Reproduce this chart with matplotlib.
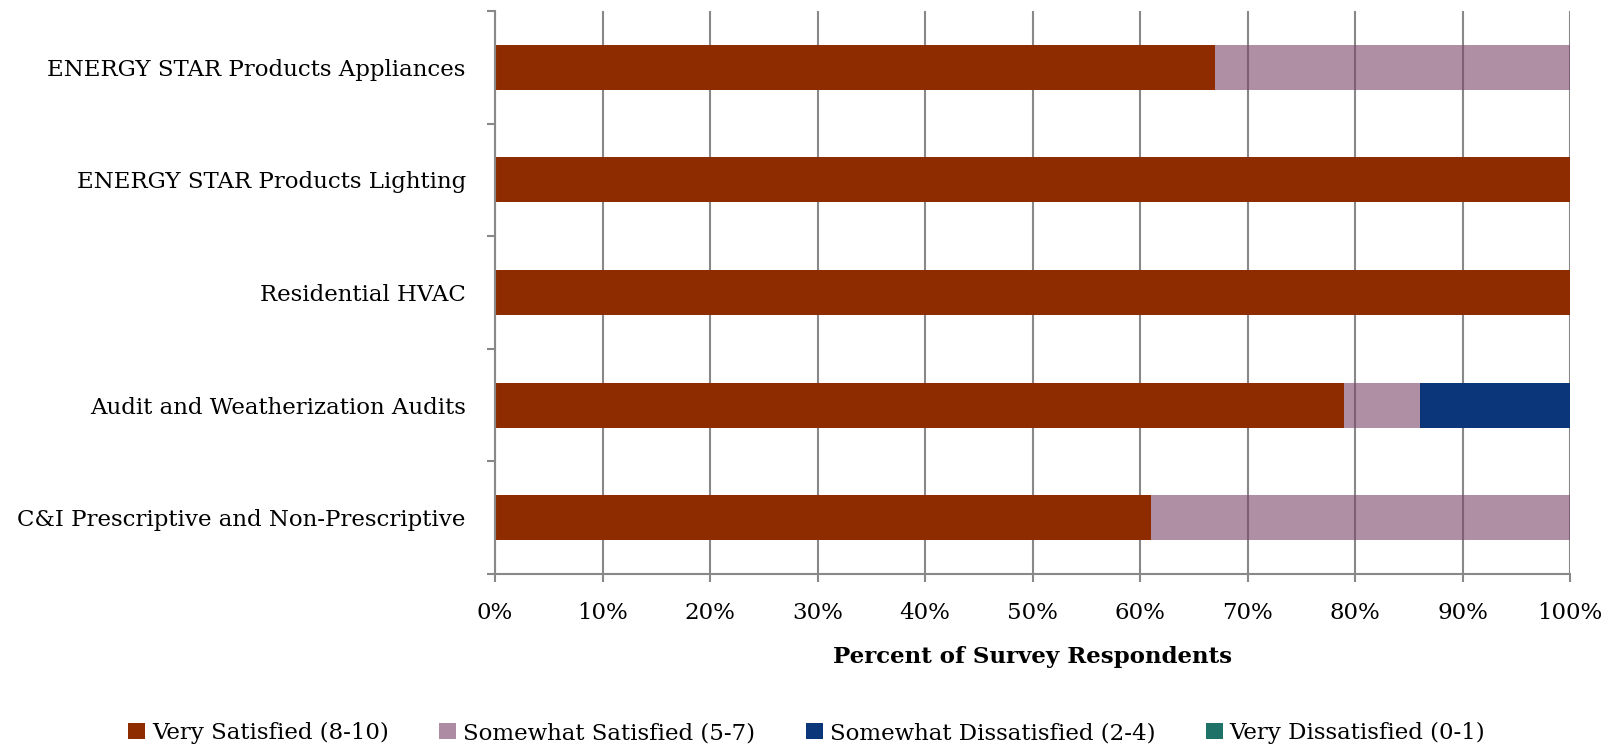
import matplotlib
matplotlib.use("Agg")
import matplotlib.pyplot as plt
import numpy as np
from matplotlib.patches import Patch

categories = ["ENERGY STAR Products Appliances", "ENERGY STAR Products Lighting",
              "Residential HVAC", "Audit and Weatherization Audits",
              "C&I Prescriptive and Non-Prescriptive"]
very_satisfied = [67, 100, 100, 79, 61]
somewhat_satisfied = [33, 0, 0, 7, 39]
somewhat_dissatisfied = [0, 0, 0, 14, 0]
very_dissatisfied = [0, 0, 0, 0, 0]
series_names = ["Very Satisfied (8-10)", "Somewhat Satisfied (5-7)",
                "Somewhat Dissatisfied (2-4)", "Very Dissatisfied (0-1)"]
colors = ["#8E2C00", "#AD8CA3", "#0B377A", "#1F7268"]
xticks = np.arange(0, 101, 10)
xtick_labels = [f"{t}%" for t in xticks]

plt.rcParams['font.family'] = ['DejaVu Serif']
FS = 16.5
fig = plt.figure(figsize=(16.13, 7.46), dpi=100)
ax = fig.add_axes([495/1613, 1-574/746, (1570-495)/1613, (574-11)/746])

y = np.arange(len(categories))[::-1]
series = [very_satisfied, somewhat_satisfied, somewhat_dissatisfied, very_dissatisfied]
left = np.zeros(len(categories))
for i, (vals, c) in enumerate(zip(series, colors)):
    vals = np.array(vals, dtype=float)
    if i == 1:
        ax.barh(y, vals, left=left, height=0.4, color="#7A4468", alpha=0.6,
                zorder=4, linewidth=0)
    else:
        ax.barh(y, vals, left=left, height=0.4, color=c, zorder=4, linewidth=0)
    left += vals

for t in xticks:
    ax.axvline(t, color='#888888', linewidth=1.5, zorder=2)

ax.set_xlim(0, 100)
ax.set_ylim(-0.5, len(categories) - 0.5)
ax.set_xticks(xticks)
ax.set_xticklabels(xtick_labels, fontsize=FS)
ax.set_yticks(y)
ax.set_yticklabels(categories, fontsize=FS)
ax.set_yticks(np.arange(-0.5, len(categories), 1), minor=True)
ax.tick_params(axis='y', which='major', length=0, pad=21)
ax.tick_params(axis='y', which='minor', length=6, color='#888888', width=1.5, direction='out')
ax.tick_params(axis='x', length=6, color='#888888', width=1.5, pad=14)
for s in ['top', 'right']:
    ax.spines[s].set_visible(False)
for s in ['left', 'bottom']:
    ax.spines[s].set_color('#888888')
    ax.spines[s].set_linewidth(1.5)
    ax.spines[s].set_zorder(5)
ax.set_xlabel("Percent of Survey Respondents", fontsize=FS, fontweight='bold', labelpad=16)

handles = [Patch(facecolor=c, edgecolor='none') for c in colors]
fig.legend(handles, series_names, loc='center', bbox_to_anchor=(0.5, 1-733/746), ncol=4,
           frameon=False, fontsize=FS, handlelength=0.75, handleheight=0.75, handletextpad=0.3,
           columnspacing=2.2, borderaxespad=0)

fig.savefig("out.png", dpi=100)
